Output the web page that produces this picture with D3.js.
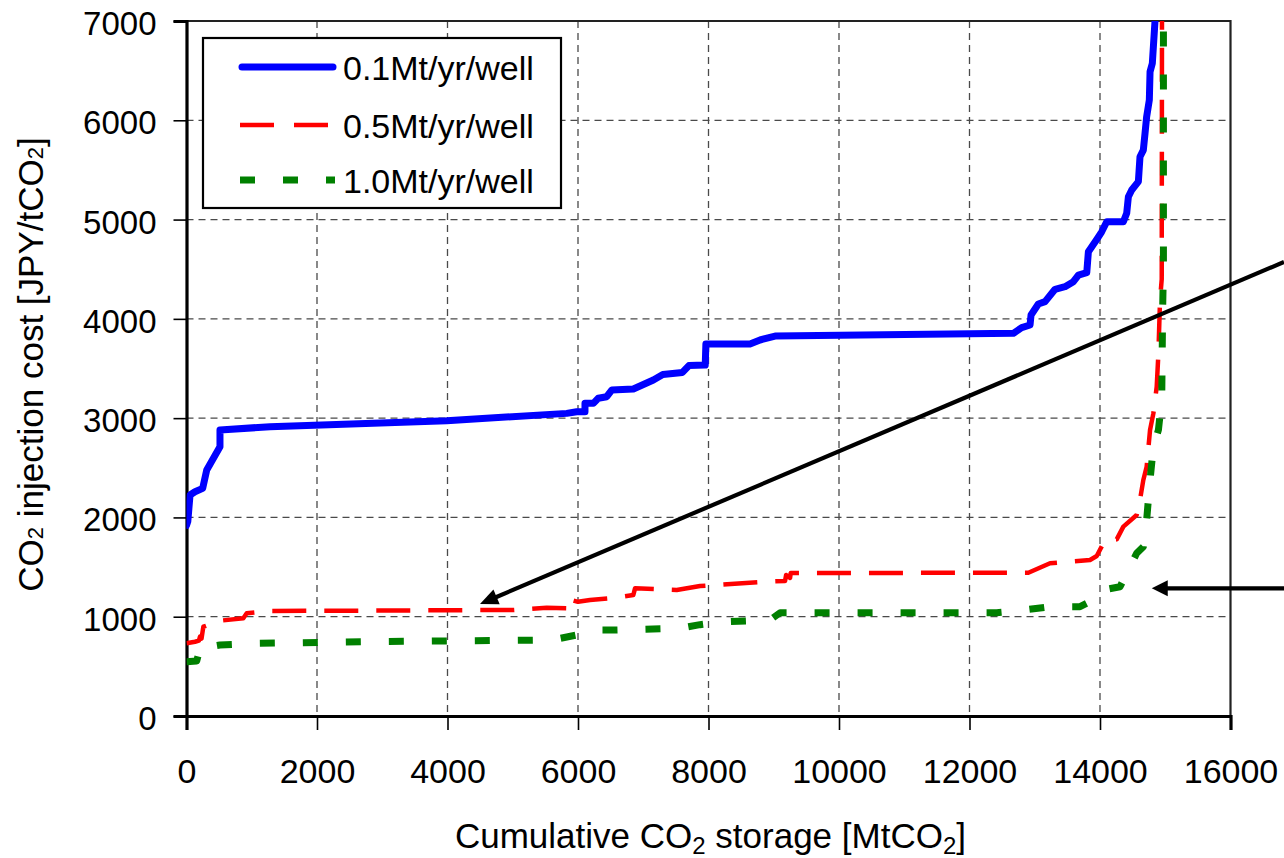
<!DOCTYPE html>
<html>
<head>
<meta charset="utf-8">
<script src="https://cdn.jsdelivr.net/npm/d3@7"></script>
<style>
  html, body { margin: 0; padding: 0; background: #fff; }
  svg { display: block; font-family: "Liberation Sans", Arial, sans-serif; }
</style>
</head>
<body>
<svg id="chart" width="1284" height="858"></svg>
<script>
// Injection cost supply curves, [cumulative storage MtCO2, cost JPY/tCO2]
const seriesNames = ["0.1Mt/yr/well", "0.5Mt/yr/well", "1.0Mt/yr/well"];

const rate01 = [
  [0,1920],[20,1960],[54,2226],[130,2259],[248,2293],[310,2478],[513,2712],[513,2880],
  [1280,2914],[3988,2974],[5827,3048],[5980,3065],[6107,3065],[6107,3149],[6235,3149],
  [6311,3200],[6440,3216],[6517,3283],[6848,3293],[7155,3384],[7300,3440],[7600,3460],
  [7700,3530],[7950,3535],[7960,3747],[8636,3747],[8790,3787],[9020,3827],[12672,3854],
  [12800,3911],[12928,3938],[12943,4039],[13055,4150],[13158,4173],[13311,4298],
  [13464,4324],[13592,4374],[13669,4441],[13797,4465],[13822,4676],[13950,4800],
  [14026,4877],[14103,4978],[14358,4978],[14409,5063],[14435,5230],[14486,5298],
  [14588,5382],[14613,5633],[14664,5700],[14690,5868],[14715,6036],[14756,6204],
  [14767,6489],[14802,6573],[14843,7000]
];

const rate05 = [
  [0,732],[130,748],[190,760],[207,799],[230,780],[258,899],[360,923],[513,960],
  [871,984],[923,1034],[1280,1058],[3000,1062],[5009,1068],[5520,1091],[5850,1085],
  [5880,1060],[5903,1168],[6000,1150],[6184,1168],[6490,1185],[6848,1219],[6874,1286],
  [7513,1269],[7870,1309],[8790,1350],[9173,1360],[9190,1420],[9250,1390],[9260,1440],
  [12902,1443],[13234,1538],[13847,1571],[13950,1611],[14077,1773],[14256,1779],
  [14358,1907],[14562,2024],[14613,2175],[14664,2377],[14715,2511],[14767,2880],
  [14818,3048],[14869,3316],[14895,3652],[14920,4190],[14946,4400],[14950,7000]
];

const rate10 = [
  [0,547],[156,554],[181,614],[220,580],[284,665],[360,698],[513,715],[1076,732],
  [3000,750],[5520,765],[5724,782],[5980,816],[6184,866],[6541,866],[7563,883],
  [7870,920],[8177,947],[8943,967],[9097,1040],[12417,1040],[12724,1058],[13234,1101],
  [13694,1101],[13847,1151],[14051,1269],[14307,1302],[14409,1437],[14562,1639],
  [14664,1705],[14715,1974],[14767,2377],[14818,2712],[14895,2880],[14946,3183],
  [14960,4100],[14972,4500],[14972,7000]
];

const xTicks = [0,2000,4000,6000,8000,10000,12000,14000,16000];
const yTicks = [0,1000,2000,3000,4000,5000,6000,7000];

// Annotation arrows: [from, to] in data units (tails run off the right edge)
const arrowDiagonal = [[16820,4573],[4498,1128]];
const arrowFlat = [[16820,1286],[14793,1286]];

// ---- layout ----
const svg = d3.select("#chart");
const pL = 186.5, pR = 1230.5, pT = 21, pB = 716;
const x = d3.scaleLinear().domain([0,16000]).range([pL,pR]);
const y = d3.scaleLinear().domain([0,7000]).range([pB,pT]);

svg.append("defs").append("clipPath").attr("id","plotClip")
  .append("rect").attr("x",pL).attr("y",pT).attr("width",pR-pL).attr("height",pB-pT);

// grid
const grid = svg.append("g").attr("stroke","#4a4a4a").attr("stroke-width",1.3)
  .attr("stroke-dasharray","7,5");
grid.selectAll(".vg").data(xTicks.filter(d => d > 0 && d < 16000)).join("line")
  .attr("x1",d=>x(d)).attr("x2",d=>x(d)).attr("y1",pT).attr("y2",pB);
grid.selectAll(".hg").data(yTicks.filter(d => d > 0 && d < 7000)).join("line")
  .attr("y1",d=>y(d)).attr("y2",d=>y(d)).attr("x1",pL).attr("x2",pR);

// frame (top & right)
svg.append("path")
  .attr("d",`M${pL},${pT}H${pR}V${pB}`)
  .attr("fill","none").attr("stroke","#222").attr("stroke-width",2.2);

// axes
const xAxis = svg.append("g").attr("transform",`translate(0,${pB})`)
  .call(d3.axisBottom(x).tickValues(xTicks).tickFormat(d3.format("d")).tickSize(14).tickPadding(29));
const yAxis = svg.append("g").attr("transform",`translate(${pL},0)`)
  .call(d3.axisLeft(y).tickValues(yTicks).tickFormat(d3.format("d")).tickSize(13).tickPadding(17));

[xAxis, yAxis].forEach(g => {
  g.select(".domain").attr("stroke","#000").attr("stroke-width",3.2);
  g.selectAll(".tick line").attr("stroke","#000").attr("stroke-width",1.6);
  g.selectAll(".tick text").attr("fill","#000")
    .style("font-family",'"Liberation Sans", Arial, sans-serif');
});
xAxis.selectAll(".tick text").style("font-size","34px");
yAxis.selectAll(".tick text").style("font-size","33px").attr("dy","0.41em");

// curves
const line = d3.line().x(d => x(d[0])).y(d => y(d[1]));
const styles = [
  {color:"#0000ff", width:7, dash:null},
  {color:"#ff0000", width:4.5, dash:"34,18"},
  {color:"#008000", width:7, dash:"15,28"}
];
const seriesData = [rate01, rate05, rate10];
const curves = svg.append("g").attr("clip-path","url(#plotClip)");
seriesData.forEach((s, i) => {
  curves.append("path").datum(s)
    .attr("d", line)
    .attr("fill","none")
    .attr("stroke", styles[i].color)
    .attr("stroke-width", styles[i].width)
    .attr("stroke-linejoin","round")
    .attr("stroke-linecap", i === 0 ? "round" : "butt")
    .attr("stroke-dasharray", styles[i].dash);
});

// legend
const lg = svg.append("g");
lg.append("rect").attr("x",203).attr("y",38).attr("width",358).attr("height",170)
  .attr("fill","#fff").attr("stroke","#000").attr("stroke-width",2.2);
const rowY = [67,125,180];
seriesNames.forEach((name,i) => {
  lg.append("line").attr("x1",i===0?242:240).attr("x2",i===0?333:335)
    .attr("y1",rowY[i]).attr("y2",rowY[i])
    .attr("stroke",styles[i].color).attr("stroke-width",styles[i].width)
    .attr("stroke-linecap", i===0 ? "round" : "butt")
    .attr("stroke-dasharray", i===1 ? "34,20" : styles[i].dash);
  lg.append("text").attr("x",343).attr("y",rowY[i]+13)
    .style("font-size","34px").attr("fill","#000").text(name);
});

// annotation arrows
function arrow(pts, headLen, headHalf) {
  const [a,b] = pts;
  const x1 = x(a[0]), y1 = y(a[1]), x2 = x(b[0]), y2 = y(b[1]);
  const dx = x2-x1, dy = y2-y1, L = Math.hypot(dx,dy);
  const ux = dx/L, uy = dy/L;
  const bx = x2 - ux*headLen, by = y2 - uy*headLen;
  svg.append("line").attr("x1",x1).attr("y1",y1).attr("x2",bx+ux*2).attr("y2",by+uy*2)
    .attr("stroke","#000").attr("stroke-width",4.2);
  svg.append("path")
    .attr("d",`M${x2},${y2}L${bx - uy*headHalf},${by + ux*headHalf}L${bx + uy*headHalf},${by - ux*headHalf}Z`)
    .attr("fill","#000");
}
arrow(arrowDiagonal, 18, 8);
arrow(arrowFlat, 16, 8);

// axis titles
svg.append("text").attr("x",(pL+pR)/2+2).attr("y",848)
  .attr("text-anchor","middle").style("font-size","35px").attr("fill","#000")
  .call(t => {
    t.append("tspan").text("Cumulative CO");
    t.append("tspan").attr("dy",6).style("font-size","24px").text("2");
    t.append("tspan").attr("dy",-6).text(" storage [MtCO");
    t.append("tspan").attr("dy",6).style("font-size","24px").text("2");
    t.append("tspan").attr("dy",-6).text("]");
  });

svg.append("text")
  .attr("transform",`translate(43,${(pT+pB)/2-4}) rotate(-90)`)
  .attr("text-anchor","middle").style("font-size","35px").attr("fill","#000")
  .call(t => {
    t.append("tspan").text("CO");
    t.append("tspan").style("font-size","22px").text("2");
    t.append("tspan").text(" injection cost [JPY/tCO");
    t.append("tspan").style("font-size","22px").text("2");
    t.append("tspan").text("]");
  });
</script>
</body>
</html>
